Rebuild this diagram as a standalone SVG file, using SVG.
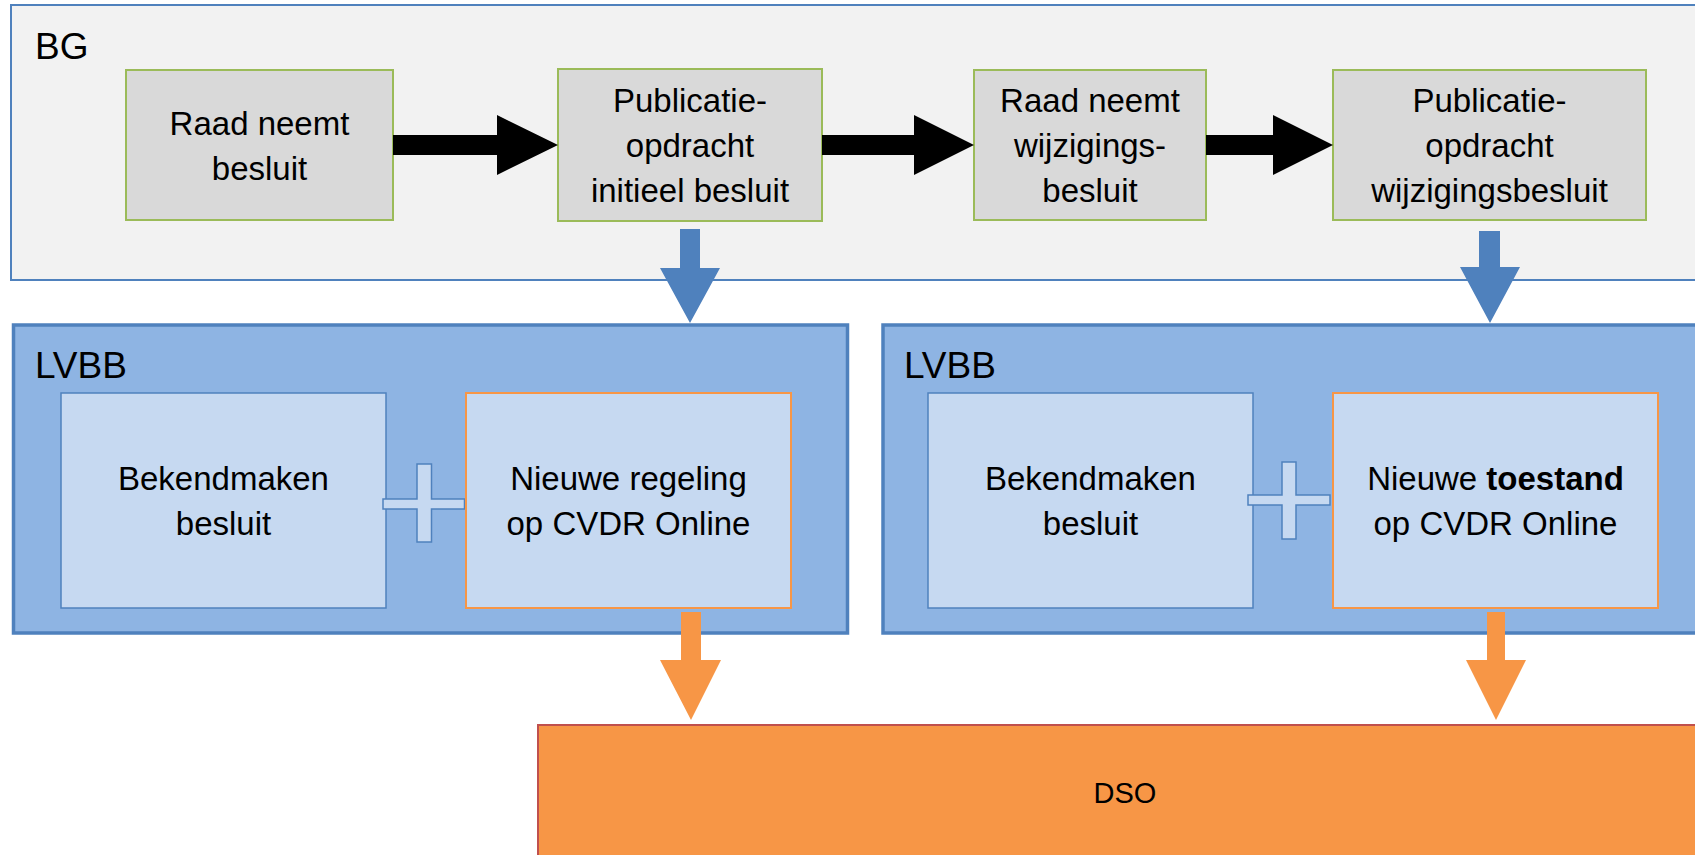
<svg xmlns="http://www.w3.org/2000/svg" width="1695" height="855" viewBox="0 0 1695 855">
<style>
  text { font-family: "Liberation Sans", Arial, sans-serif; fill: #000; }
  .lbl { font-size: 37px; }
  .t { font-size: 33px; text-anchor: middle; }
  .grey { fill: #d9d9d9; stroke: #9bbb59; stroke-width: 2; }
  .inner { fill: #c6d9f1; stroke: #4f81bd; stroke-width: 1.5; }
  .innerO { fill: #c6d9f1; stroke: #f79646; stroke-width: 2; }
  .lvbb { fill: #8eb4e3; stroke: #4f81bd; stroke-width: 3.5; }
  .blk { fill: #000; }
  .blue { fill: #4f81bd; }
  .orange { fill: #f79646; }
</style>
<rect width="1695" height="855" fill="#fff"/>

<g id="bg">
  <rect x="11" y="5" width="1700" height="275" fill="#f2f2f2" stroke="#4f81bd" stroke-width="2"/>
  <text class="lbl" x="35" y="59">BG</text>
</g>

<g id="raad-besluit">
  <rect class="grey" x="126" y="70" width="267" height="150"/>
  <text class="t" x="259.5" y="135">Raad neemt</text>
  <text class="t" x="259.5" y="180">besluit</text>
</g>

<g id="pub-initieel">
  <rect class="grey" x="558" y="69" width="264" height="152"/>
  <text class="t" x="690" y="112">Publicatie-</text>
  <text class="t" x="690" y="157">opdracht</text>
  <text class="t" x="690" y="202">initieel besluit</text>
</g>

<g id="raad-wijziging">
  <rect class="grey" x="974" y="70" width="232" height="150"/>
  <text class="t" x="1090" y="112">Raad neemt</text>
  <text class="t" x="1090" y="157">wijzigings-</text>
  <text class="t" x="1090" y="202">besluit</text>
</g>

<g id="pub-wijziging">
  <rect class="grey" x="1333" y="70" width="313" height="150"/>
  <text class="t" x="1489.5" y="112">Publicatie-</text>
  <text class="t" x="1489.5" y="157">opdracht</text>
  <text class="t" x="1489.5" y="202">wijzigingsbesluit</text>
</g>

<g id="lvbb1">
  <rect class="lvbb" x="13.5" y="325" width="834" height="308"/>
  <text class="lbl" x="35" y="378">LVBB</text>
</g>

<g id="bekendmaken1">
  <rect class="inner" x="61" y="393" width="325" height="215"/>
  <text class="t" x="223.5" y="490">Bekendmaken</text>
  <text class="t" x="223.5" y="535">besluit</text>
</g>

<g id="plus1">
  <polygon class="inner" points="417,464 431.5,464 431.5,499 464.5,499 464.5,509 431.5,509 431.5,542 417,542 417,509 383,509 383,499 417,499"/>
</g>

<g id="regeling">
  <rect class="innerO" x="466" y="393" width="325" height="215"/>
  <text class="t" x="628.5" y="490">Nieuwe regeling</text>
  <text class="t" x="628.5" y="535">op CVDR Online</text>
</g>

<g id="lvbb2">
  <rect class="lvbb" x="883" y="325" width="830" height="308"/>
  <text class="lbl" x="904" y="378">LVBB</text>
</g>

<g id="bekendmaken2">
  <rect class="inner" x="928" y="393" width="325" height="215"/>
  <text class="t" x="1090.5" y="490">Bekendmaken</text>
  <text class="t" x="1090.5" y="535">besluit</text>
</g>

<g id="plus2">
  <polygon class="inner" points="1282,462 1296,462 1296,495 1330,495 1330,505 1296,505 1296,539 1282,539 1282,505 1248,505 1248,495 1282,495"/>
</g>

<g id="toestand">
  <rect class="innerO" x="1333" y="393" width="325" height="215"/>
  <text class="t" x="1495.5" y="490">Nieuwe <tspan font-weight="bold">toestand</tspan></text>
  <text class="t" x="1495.5" y="535">op CVDR Online</text>
</g>

<g id="dso">
  <rect x="538" y="725" width="1180" height="140" fill="#f79646" stroke="#c0504d" stroke-width="2"/>
  <text x="1125" y="803" font-size="29" text-anchor="middle">DSO</text>
</g>

<g id="connectors">
  <polygon class="blk" points="393,135 497,135 497,115 558,145 497,175 497,155 393,155"/>
  <polygon class="blk" points="822,135 914,135 914,115 974,145 914,175 914,155 822,155"/>
  <polygon class="blk" points="1206,135 1273,135 1273,115 1333,145 1273,175 1273,155 1206,155"/>
  <polygon class="blue" points="680,229 700,229 700,268 720,268 690,323 660,268 680,268"/>
  <polygon class="blue" points="1479,231 1500,231 1500,267 1520,267 1490,323 1460,267 1479,267"/>
  <polygon class="orange" points="681,612 701,612 701,660 721,660 691,720 660,660 681,660"/>
  <polygon class="orange" points="1487,612 1505,612 1505,660 1526,660 1496,720 1466,660 1487,660"/>
</g>
</svg>
